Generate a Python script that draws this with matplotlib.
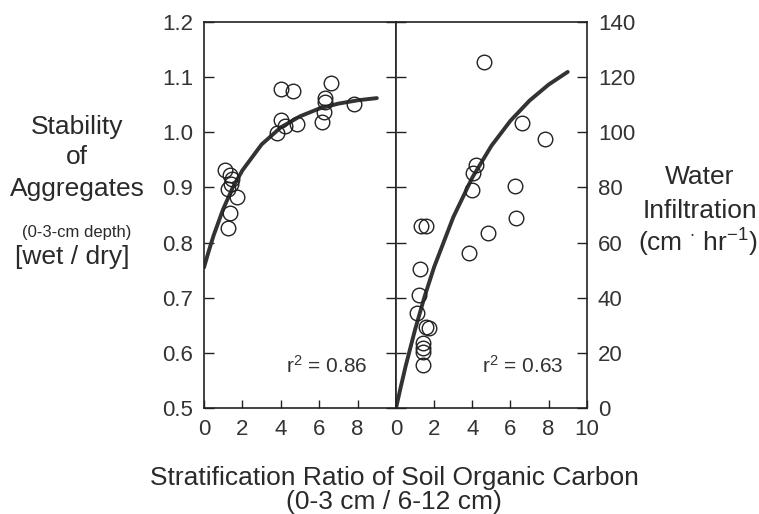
import matplotlib.pyplot as plt

plt.rcParams['font.family'] = ['Liberation Sans', 'DejaVu Sans']
plt.rcParams['mathtext.fontset'] = 'custom'
plt.rcParams['mathtext.rm'] = 'Liberation Sans'
plt.rcParams['mathtext.it'] = 'Liberation Sans'

# aggregate stability (left panel)
stab_x = [4.02, 4.61, 6.62, 6.32, 6.30, 6.23, 6.14, 7.83, 4.02, 4.20, 4.84, 3.79,
          1.10, 1.36, 1.48, 1.41, 1.27, 1.71, 1.36, 1.27]
stab_y = [1.078, 1.075, 1.089, 1.062, 1.055, 1.037, 1.019, 1.051, 1.023, 1.011, 1.015, 0.998,
          0.931, 0.922, 0.915, 0.907, 0.898, 0.883, 0.853, 0.827]
stab_fit_x = [0, 0.25, 0.5, 1, 1.5, 2, 3, 4, 5, 6, 7, 8, 9]
stab_fit_y = [0.755, 0.785, 0.813, 0.861, 0.900, 0.931, 0.978, 1.009, 1.029, 1.043, 1.052, 1.058, 1.062]

# water infiltration (right panel)
infil_x = [4.63, 6.60, 7.80, 4.19, 4.01, 3.96, 6.25, 1.33, 1.55, 6.28, 4.83, 3.81,
           1.27, 1.22, 1.08, 1.57, 1.71, 1.40, 1.40, 1.40, 1.40]
infil_y = [125.6, 103.3, 97.5, 88.1, 85.4, 79.1, 80.6, 66.0, 66.0, 68.8, 63.4, 56.3,
           50.3, 41.0, 34.3, 29.5, 28.9, 23.5, 21.7, 20.4, 15.6]
infil_fit_x = [0, 0.25, 0.5, 1, 1.5, 2, 3, 4, 5, 6, 7, 8, 9]
infil_fit_y = [0, 7.7, 15.1, 28.5, 40.5, 51.2, 69.2, 83.6, 95.1, 104.2, 111.5, 117.3, 121.9]

fig = plt.figure(figsize=(7.59, 5.14), dpi=100)
ax1 = fig.add_axes([0.2688, 0.2062, 0.2530, 0.751])
ax2 = fig.add_axes([0.5218, 0.2062, 0.2513, 0.751])

ink = '#222222'
lab = '#333333'
for ax in (ax1, ax2):
    for s in ax.spines.values():
        s.set_linewidth(1.2)
        s.set_color(ink)
    ax.set_xlim(0, 10)
    ax.set_xticks([0, 2, 4, 6, 8])
    ax.tick_params(axis='x', direction='in', length=6, width=1, color=ink,
                   labelsize=16, pad=8, labelcolor=lab)
    ax.tick_params(axis='y', direction='in', length=7, width=1, color=ink,
                   labelsize=16, pad=8, labelcolor=lab)

ax2.set_xticks([0, 2, 4, 6, 8, 10])

ax1.plot(stab_fit_x, stab_fit_y, color='#333333', lw=2.8, solid_capstyle='round')
ax1.plot(stab_x, stab_y, 'o', ms=10.5, mfc='none', mec=ink, mew=1.0)
ax1.set_ylim(0.5, 1.2)
ax1.set_yticks([0.5, 0.6, 0.7, 0.8, 0.9, 1.0, 1.1, 1.2])
ax1.set_yticklabels(['0.5', '0.6', '0.7', '0.8', '0.9', '1.0', '1.1', '1.2'])
ax1.tick_params(axis='y', left=True, right=True)
ax1.text(0.85, 0.11, r'r$^2$ = 0.86', transform=ax1.transAxes, ha='right',
         va='center', fontsize=15, color=lab)

ax2.plot(infil_fit_x, infil_fit_y, color='#333333', lw=2.8, solid_capstyle='round')
ax2.plot(infil_x, infil_y, 'o', ms=10.5, mfc='none', mec=ink, mew=1.0)
ax2.set_ylim(0, 140)
ax2.set_yticks([0, 20, 40, 60, 80, 100, 120, 140])
ax2.tick_params(axis='y', left=True, right=True, labelleft=False, labelright=True)
ax2.text(0.876, 0.11, r'r$^2$ = 0.63', transform=ax2.transAxes, ha='right',
         va='center', fontsize=15, color=lab)

# axis titles
tc = '#2a2a2a'
fs = 19
fig.text(77 / 759, 1 - 127 / 514, 'Stability', ha='center', va='center', fontsize=fs, color=tc)
fig.text(77 / 759, 1 - 157 / 514, 'of', ha='center', va='center', fontsize=fs, color=tc)
fig.text(77 / 759, 1 - 189 / 514, 'Aggregates', ha='center', va='center', fontsize=fs, color=tc)
fig.text(77 / 759, 1 - 233 / 514, '(0-3-cm depth)', ha='center', va='center', fontsize=12, color=tc)
fig.text(72 / 759, 1 - 257 / 514, '[wet / dry]', ha='center', va='center', fontsize=fs, color=tc)

fig.text(700 / 759, 1 - 177 / 514, 'Water', ha='center', va='center', fontsize=fs, color=tc)
fig.text(700 / 759, 1 - 211 / 514, 'Infiltration', ha='center', va='center', fontsize=fs, color=tc)
fig.text(698 / 759, 1 - 243 / 514, r'(cm $^{\cdot}$ hr$^{-1}$)', ha='center', va='center',
         fontsize=fs, color=tc)

fig.text(394 / 759, 1 - 478 / 514, 'Stratification Ratio of Soil Organic Carbon',
         ha='center', va='center', fontsize=fs, color=tc)
fig.text(394 / 759, 1 - 502 / 514, '(0-3 cm / 6-12 cm)',
         ha='center', va='center', fontsize=fs, color=tc)

fig.savefig('out.png', dpi=100)
